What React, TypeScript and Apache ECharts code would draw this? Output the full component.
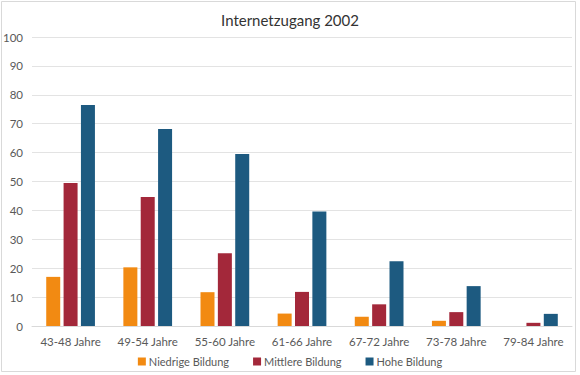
import React, { useEffect, useRef } from "react";
import * as echarts from "echarts";

const categories = ["43-48 Jahre", "49-54 Jahre", "55-60 Jahre", "61-66 Jahre", "67-72 Jahre", "73-78 Jahre", "79-84 Jahre"];
const niedrig = [17.0, 20.3, 11.7, 4.3, 3.2, 1.8, 0];
const mittlere = [49.5, 44.6, 25.2, 11.8, 7.5, 4.8, 1.1];
const hohe = [76.5, 68.2, 59.5, 39.6, 22.4, 13.8, 4.2];
const seriesNames = ["Niedrige Bildung", "Mittlere Bildung", "Hohe Bildung"];
const colors = ["#F28A12", "#A3283A", "#1D5A80"];

export default function App() {
  const ref = useRef<HTMLDivElement>(null);
  useEffect(() => {
    document.body.style.margin = "0";
    const chart = echarts.init(ref.current!, null, { renderer: "svg" });
    const font = "Lato, 'Open Sans', sans-serif";
    const data = [niedrig, mittlere, hohe];
    chart.setOption({
      animation: false,
      textStyle: { fontFamily: font },
      title: {
        text: "Internetzugang 2002",
        left: "center",
        top: 7,
        textStyle: { fontFamily: font, fontSize: 15, fontWeight: "normal", color: "#333" },
      },
      graphic: [
        {
          type: "rect",
          shape: { x: 1.5, y: 1.5, width: 574, height: 370 },
          style: { fill: "none", stroke: "#d9d9d9", lineWidth: 1 },
          silent: true,
        },
      ],
      legend: {
        bottom: 3,
        left: "center",
        itemWidth: 8,
        itemHeight: 8,
        itemGap: 24,
        icon: "rect",
        textStyle: { fontFamily: font, fontSize: 11, color: "#595959", padding: [0, 0, 0, -2] },
        data: seriesNames,
      },
      grid: { left: 32, right: 8, top: 37, bottom: 49, containLabel: false },
      xAxis: {
        type: "category",
        data: categories,
        axisLine: { lineStyle: { color: "#d9d9d9" } },
        axisTick: { show: false },
        axisLabel: { interval: 0, fontFamily: font, fontSize: 11.5, color: "#595959", margin: 9 },
      },
      yAxis: {
        type: "value",
        min: 0,
        max: 100,
        interval: 10,
        axisLine: { show: false },
        axisTick: { show: false },
        splitLine: { lineStyle: { color: "#e3e3e3" } },
        axisLabel: { fontFamily: font, fontSize: 11.5, color: "#595959", margin: 9 },
      },
      series: seriesNames.map((name, i) => ({
        name,
        type: "bar",
        data: data[i],
        barWidth: 14,
        barGap: "24%",
        itemStyle: { color: colors[i] },
      })),
    });
    return () => chart.dispose();
  }, []);
  return <div ref={ref} style={{ width: 580, height: 375 }} />;
}
